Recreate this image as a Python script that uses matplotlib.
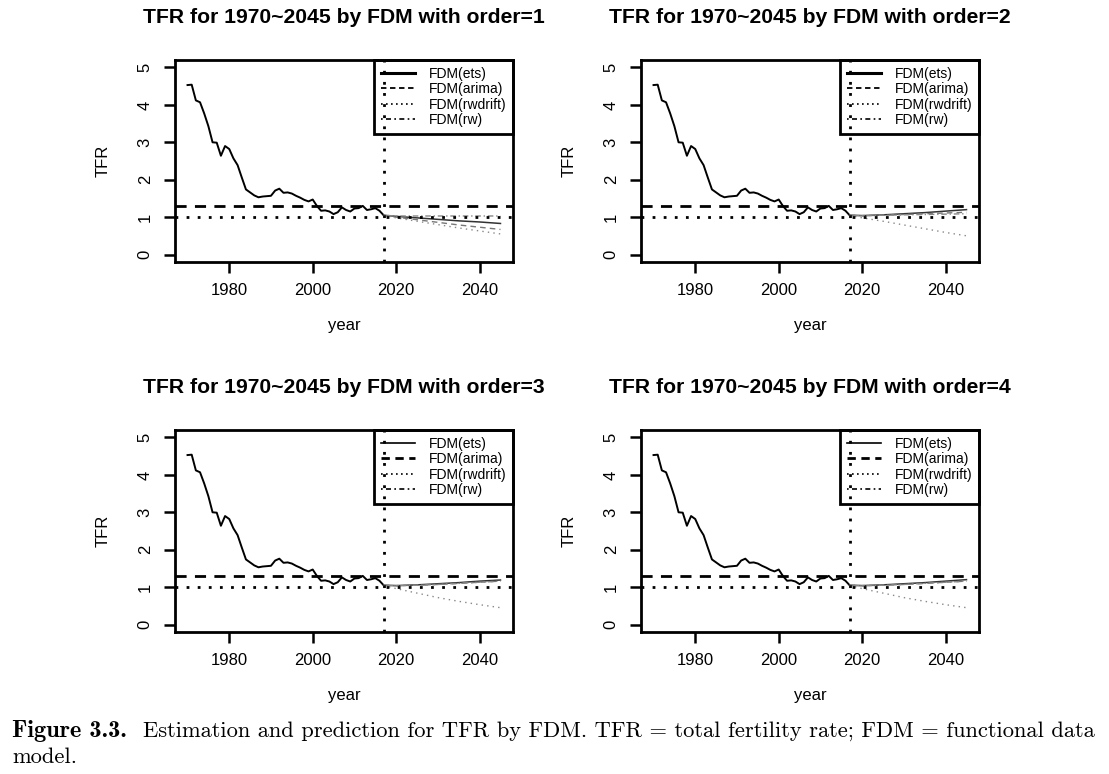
import matplotlib.pyplot as plt
from matplotlib.lines import Line2D

plt.rcParams['font.family'] = ['Liberation Sans', 'DejaVu Sans']

# observed TFR (Korea), 1970-2017
years = list(range(1970, 2018))
tfr = [4.53, 4.54, 4.12, 4.07, 3.77, 3.43, 3.00, 2.99, 2.64, 2.90,
       2.82, 2.57, 2.39, 2.06, 1.74, 1.66, 1.58, 1.53, 1.55, 1.56,
       1.57, 1.71, 1.76, 1.65, 1.66, 1.63, 1.57, 1.52, 1.46, 1.42,
       1.47, 1.30, 1.17, 1.18, 1.15, 1.08, 1.13, 1.26, 1.19, 1.15,
       1.23, 1.24, 1.30, 1.19, 1.21, 1.24, 1.17, 1.05]

# forecasts
fc_years = [2017, 2020, 2025, 2030, 2035, 2040, 2045]
ets = {
    1: [1.05, 1.02, 0.98, 0.94, 0.90, 0.87, 0.83],
    2: [1.05, 1.04, 1.06, 1.09, 1.12, 1.16, 1.20],
    3: [1.05, 1.04, 1.06, 1.09, 1.12, 1.16, 1.19],
    4: [1.05, 1.04, 1.06, 1.09, 1.12, 1.16, 1.20],
}
arima = {
    1: [1.05, 1.00, 0.93, 0.86, 0.79, 0.73, 0.67],
    2: [1.05, 1.04, 1.05, 1.07, 1.09, 1.11, 1.13],
    3: [1.05, 1.04, 1.05, 1.07, 1.10, 1.13, 1.16],
    4: [1.05, 1.04, 1.05, 1.07, 1.10, 1.13, 1.16],
}
rwdrift = {
    1: [1.05, 0.98, 0.89, 0.80, 0.71, 0.63, 0.55],
    2: [1.05, 0.98, 0.89, 0.79, 0.69, 0.59, 0.50],
    3: [1.05, 0.96, 0.84, 0.72, 0.62, 0.53, 0.45],
    4: [1.05, 0.96, 0.84, 0.72, 0.62, 0.53, 0.45],
}
rw = {
    1: [1.05, 1.03, 1.03, 1.03, 1.03, 1.03, 1.03],
    2: [1.05, 1.04, 1.05, 1.06, 1.07, 1.08, 1.09],
    3: [1.05, 1.04, 1.05, 1.07, 1.10, 1.13, 1.16],
    4: [1.05, 1.04, 1.05, 1.07, 1.10, 1.13, 1.16],
}
labels = ['FDM(ets)', 'FDM(arima)', 'FDM(rwdrift)', 'FDM(rw)']
x_ticks = [1980, 2000, 2020, 2040]
y_ticks = [0, 1, 2, 3, 4, 5]

W, H = 1109, 774
fig = plt.figure(figsize=(W / 100, H / 100), dpi=100)

# panel boxes in pixels: left, top
boxes = {1: (175, 60), 2: (641, 60), 3: (175, 430), 4: (641, 430)}
bw, bh = 338, 202

for order, (px, py) in boxes.items():
    ax = fig.add_axes([px / W, 1 - (py + bh) / H, bw / W, bh / H])
    ax.plot(years, tfr, color='black', lw=1.4)
    ax.plot(fc_years, ets[order], color='#333333', lw=1.1)
    ax.plot(fc_years, arima[order], color='#777777', lw=1.0, ls=(0, (4, 3)))
    ax.plot(fc_years, rwdrift[order], color='#888888', lw=1.0, ls=(0, (1, 3)))
    ax.plot(fc_years, rw[order], color='#888888', lw=1.0, ls=(0, (1, 2, 4, 2)))
    ax.axhline(1.3, color='black', lw=2, ls=(0, (4, 3)))
    ax.axhline(1.0, color='black', lw=2, ls=(0, (1, 3)))
    ax.axvline(2017, color='black', lw=2, ls=(0, (1, 3)), zorder=5)

    ax.set_xlim(1967, 2048)
    ax.set_ylim(-0.2, 5.2)
    ax.set_xticks(x_ticks)
    ax.set_yticks(y_ticks)
    ax.tick_params(labelsize=12, length=8, width=1.8)
    ax.tick_params(axis='x', pad=7)
    ax.tick_params(axis='y', pad=8)
    for lab in ax.get_yticklabels():
        lab.set_rotation(90)
        lab.set_va('center')
    for s in ax.spines.values():
        s.set_linewidth(2)

    ax.text(0.5, 1.21, f'TFR for 1970~2045 by FDM with order={order}',
            transform=ax.transAxes, ha='center', va='center',
            fontsize=15.2, fontweight='bold')
    ax.set_xlabel('year', fontsize=12, labelpad=14.5)
    ax.set_ylabel('TFR', fontsize=12, labelpad=19.5)

    lw_ets = 2.2 if order <= 2 else 1.2
    lw_ar = 1.3 if order <= 2 else 2.0
    handles = [
        Line2D([], [], color='black', lw=lw_ets),
        Line2D([], [], color='black', lw=lw_ar, ls=(0, (3, 2))),
        Line2D([], [], color='black', lw=1.2, ls=(0, (1, 2))),
        Line2D([], [], color='black', lw=1.2, ls=(0, (1, 2, 3, 2))),
    ]
    leg = ax.legend(handles, labels, loc='upper right', borderaxespad=0,
                    fontsize=10, fancybox=False, framealpha=1,
                    edgecolor='black', handlelength=2.4, handletextpad=1.0,
                    labelspacing=0.1, borderpad=0.5)
    leg.get_frame().set_facecolor('none')
    leg.get_frame().set_linewidth(2)
    leg.set_zorder(4)

# caption
fig.canvas.draw()
r = fig.canvas.get_renderer()
t1 = fig.text(12 / W, 1 - 731 / H, 'Figure 3.3.', family='cmb10',
              fontsize=17.5, va='center')
ext = t1.get_window_extent(renderer=r)
fig.text((ext.x1 + 16) / W, 1 - 731 / H,
         'Estimation and prediction for TFR by FDM. TFR = total fertility rate; '
         'FDM = functional data', family='cmr10', fontsize=16.2, va='center')
fig.text(12 / W, 1 - 757 / H, 'model.', family='cmr10', fontsize=16.2,
         va='center')

fig.savefig('out.png', dpi=100)
